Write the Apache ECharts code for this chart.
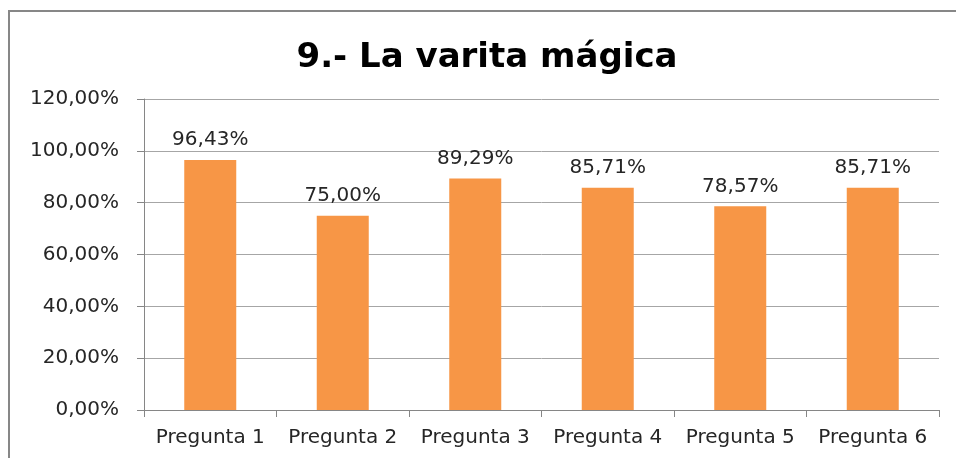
<!DOCTYPE html>
<html>
<head>
<meta charset="utf-8">
<script src="https://cdn.jsdelivr.net/npm/echarts@6/dist/echarts.min.js"></script>
<style>html,body{margin:0;padding:0;background:#fff}#c{width:956px;height:458px}</style>
</head>
<body>
<div id="c"></div>
<script>
var titleText = '9.- La varita mágica';
var categories = ['Pregunta 1','Pregunta 2','Pregunta 3','Pregunta 4','Pregunta 5','Pregunta 6'];
var values = [96.43, 75.00, 89.29, 85.71, 78.57, 85.71];
var yMin = 0, yMax = 120, yStep = 20;

function pct(v){ return Number(v).toFixed(2).replace('.', ',') + '%'; }

var chart = echarts.init(document.getElementById('c'), null, {renderer:'canvas'});
chart.setOption({
  animation: false,
  backgroundColor: '#fff',
  textStyle: {fontFamily: 'DejaVu Sans'},
  graphic: [{
    type: 'rect', shape: {x: 9, y: 11, width: 1000, height: 500},
    style: {fill: 'none', stroke: '#878787', lineWidth: 2}, silent: true
  }],
  title: {
    text: titleText, left: 482, top: 36, textAlign: 'center',
    textStyle: {fontFamily: 'DejaVu Sans', fontWeight: 'bold', fontSize: 34, color: '#000'}
  },
  grid: {left: 144, right: 17, top: 99, bottom: 48, containLabel: false},
  xAxis: {
    type: 'category', data: categories,
    axisLine: {lineStyle: {color: '#868686', width: 1}},
    axisTick: {show: true, length: 7, alignWithLabel: false, lineStyle: {color: '#868686'}},
    axisLabel: {fontFamily: 'DejaVu Sans', fontSize: 20, color: '#262626', margin: 18, interval: 0}
  },
  yAxis: {
    type: 'value', min: yMin, max: yMax, interval: yStep,
    axisLine: {show: true, lineStyle: {color: '#868686', width: 1}},
    axisTick: {show: true, length: 7, lineStyle: {color: '#868686'}},
    splitLine: {show: true, lineStyle: {color: '#a6a6a6', width: 1}},
    axisLabel: {fontFamily: 'DejaVu Sans', fontSize: 20, color: '#262626', margin: 25, formatter: pct}
  },
  series: [{
    type: 'bar', data: values, barWidth: 52,
    itemStyle: {color: '#F79646'},
    label: {show: true, position: 'top', distance: 10, fontFamily: 'DejaVu Sans', fontSize: 20, color: '#262626',
      formatter: function(p){ return pct(p.value); }}
  }]
});
</script>
</body>
</html>
